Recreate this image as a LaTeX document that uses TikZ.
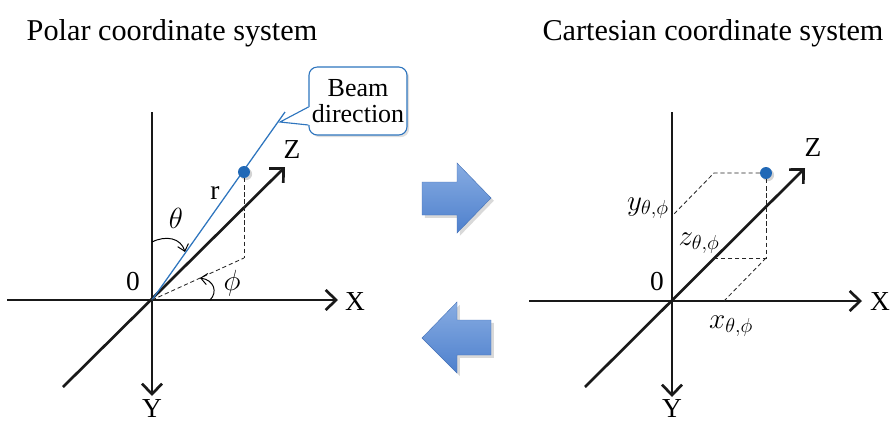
\documentclass[tikz,border=0pt]{standalone}
\usepackage{fontspec}
\setmainfont{Liberation Serif}
\usetikzlibrary{arrows.meta, shadows, positioning}

\definecolor{beamblue}{RGB}{46,117,190}
\definecolor{dotblue}{RGB}{32,104,182}
\definecolor{arrowtop}{RGB}{135,172,226}
\definecolor{arrowbottom}{RGB}{78,128,205}

\tikzset{
    axis/.style={line width=1.9pt, black!90, -{Straight Barb[length=2.6mm, width=5mm]}},
    beam/.style={line width=0.9pt, beamblue},
    proj/.style={line width=0.6pt, black!85, densely dashed},
    anglearrow/.style={line width=0.7pt, -{Straight Barb[length=1.6mm, width=2.8mm]}},
    lbl/.style={font=\fontsize{19.5}{22}\selectfont, inner sep=1pt},
    title/.style={font=\fontsize{21.5}{25}\selectfont},
    dot/.style={circle, fill=dotblue, inner sep=0pt, minimum size=8.5pt, drop shadow={shadow xshift=1.5pt, shadow yshift=-1.5pt, opacity=0.35}},
    bigarrow/.style={top color=arrowtop, bottom color=arrowbottom, draw=arrowbottom!90!black, line width=0.3pt, drop shadow={shadow xshift=2pt, shadow yshift=-2pt, opacity=0.3}},
    beambox/.style={rectangle, draw=beamblue, line width=0.8pt, fill=white, rounded corners=6pt, align=center, minimum width=2.4cm, minimum height=1.7cm, inner sep=2pt, font=\fontsize{18.5}{21}\selectfont, drop shadow={shadow xshift=1.5pt, shadow yshift=-1.5pt, opacity=0.25}}
}

\begin{document}
\begin{tikzpicture}[x=0.025cm, y=-0.025cm]
    \useasboundingbox (0,0) rectangle (895,422);

    % titles
    \node (polar) [title] at (172,33) {Polar coordinate system};
    \node (cart) [title] at (713,33) {Cartesian coordinate system};

    % polar system
    \coordinate (o1) at (152,300);
    \coordinate (xl1) at (7,300);
    \coordinate (xr1) at (338,300);
    \coordinate (yt1) at (152,112);
    \coordinate (yb1) at (152,396);
    \coordinate (zl1) at (63,387);
    \coordinate (zr1) at (285,167);
    \coordinate (beamend) at (285,112);
    \coordinate (tip) at (280,122);
    \coordinate (q1) at (244,258);
    \coordinate (th1) at (152,242);
    \coordinate (th2) at (185,252);
    \coordinate (ph1) at (210,300);
    \coordinate (ph2) at (200,278);

    \draw [axis] (xl1) -- (xr1);
    \draw [axis] (yt1) -- (yb1);
    \draw [axis] (zl1) -- (zr1);
    \draw [beam] (o1) -- (beamend);
    \node (p1) [dot] at (244,172) {};
    \draw [proj] (p1) -- (q1);
    \draw [proj] (o1) -- (q1);
    \draw [anglearrow] (th1) .. controls (166,235) and (181,238) .. (th2);
    \draw [anglearrow] (ph1) .. controls (218,292) and (214,280) .. (ph2);

    % callout
    \node (beamlbl) [beambox] at (358,101) {Beam\\[-2pt]direction};
    \coordinate (cu) at (beamlbl.west |- 0,107);
    \coordinate (cd) at (beamlbl.west |- 0,125);
    \fill [white] ([xshift=1pt]cu) -- (tip) -- ([xshift=1pt]cd) -- cycle;
    \draw [beamblue, line width=0.8pt, line join=miter] (cu) -- (tip) -- (cd);

    \node (zero1) [lbl] at (133,282) {0};
    \node (x1) [lbl] at (355,302) {X};
    \node (y1) [lbl, inner sep=0pt, anchor=base] at (152,417) {Y};
    \node (z1) [lbl] at (292,150) {Z};
    \node (r1) [lbl] at (215,193) {r};
    \node (theta1) [lbl] at (176,218) {$\theta$};
    \node (phi1) [lbl] at (232,283) {$\phi$};

    % transform arrows
    \path [bigarrow] (422,182) -- (457,182) -- (457,163) -- (491,198) -- (457,233) -- (457,215) -- (422,215) -- cycle;
    \path [bigarrow] (491,320) -- (457,320) -- (457,302) -- (422,338) -- (457,373) -- (457,355) -- (491,355) -- cycle;

    % cartesian system
    \coordinate (o2) at (672,301);
    \coordinate (xl2) at (529,301);
    \coordinate (xr2) at (862,301);
    \coordinate (yt2) at (672,112);
    \coordinate (yb2) at (672,397);
    \coordinate (zl2) at (585,387);
    \coordinate (zr2) at (805,168);
    \coordinate (q2) at (766,258);
    \coordinate (zp) at (714,258);
    \coordinate (xp) at (724,301);
    \coordinate (t2) at (714,173);
    \coordinate (yp) at (672,216);

    \draw [axis] (xl2) -- (xr2);
    \draw [axis] (yt2) -- (yb2);
    \draw [axis] (zl2) -- (zr2);
    \node (p2) [dot] at (766,173) {};
    \draw [proj] (p2) -- (q2) -- (zp);
    \draw [proj] (p2) -- (t2) -- (yp);
    \draw [proj] (q2) -- (xp);

    \node (zero2) [lbl] at (657,282) {0};
    \node (x2) [lbl] at (880,302) {X};
    \node (y2) [lbl, inner sep=0pt, anchor=base] at (672,417) {Y};
    \node (z2) [lbl] at (813,148) {Z};
    \node (xc) [lbl] at (731,326) {$x_{\theta,\phi}$};
    \node (yc) [lbl] at (648,208) {$y_{\theta,\phi}$};
    \node (zc) [lbl] at (699,243) {$z_{\theta,\phi}$};
\end{tikzpicture}
\end{document}
